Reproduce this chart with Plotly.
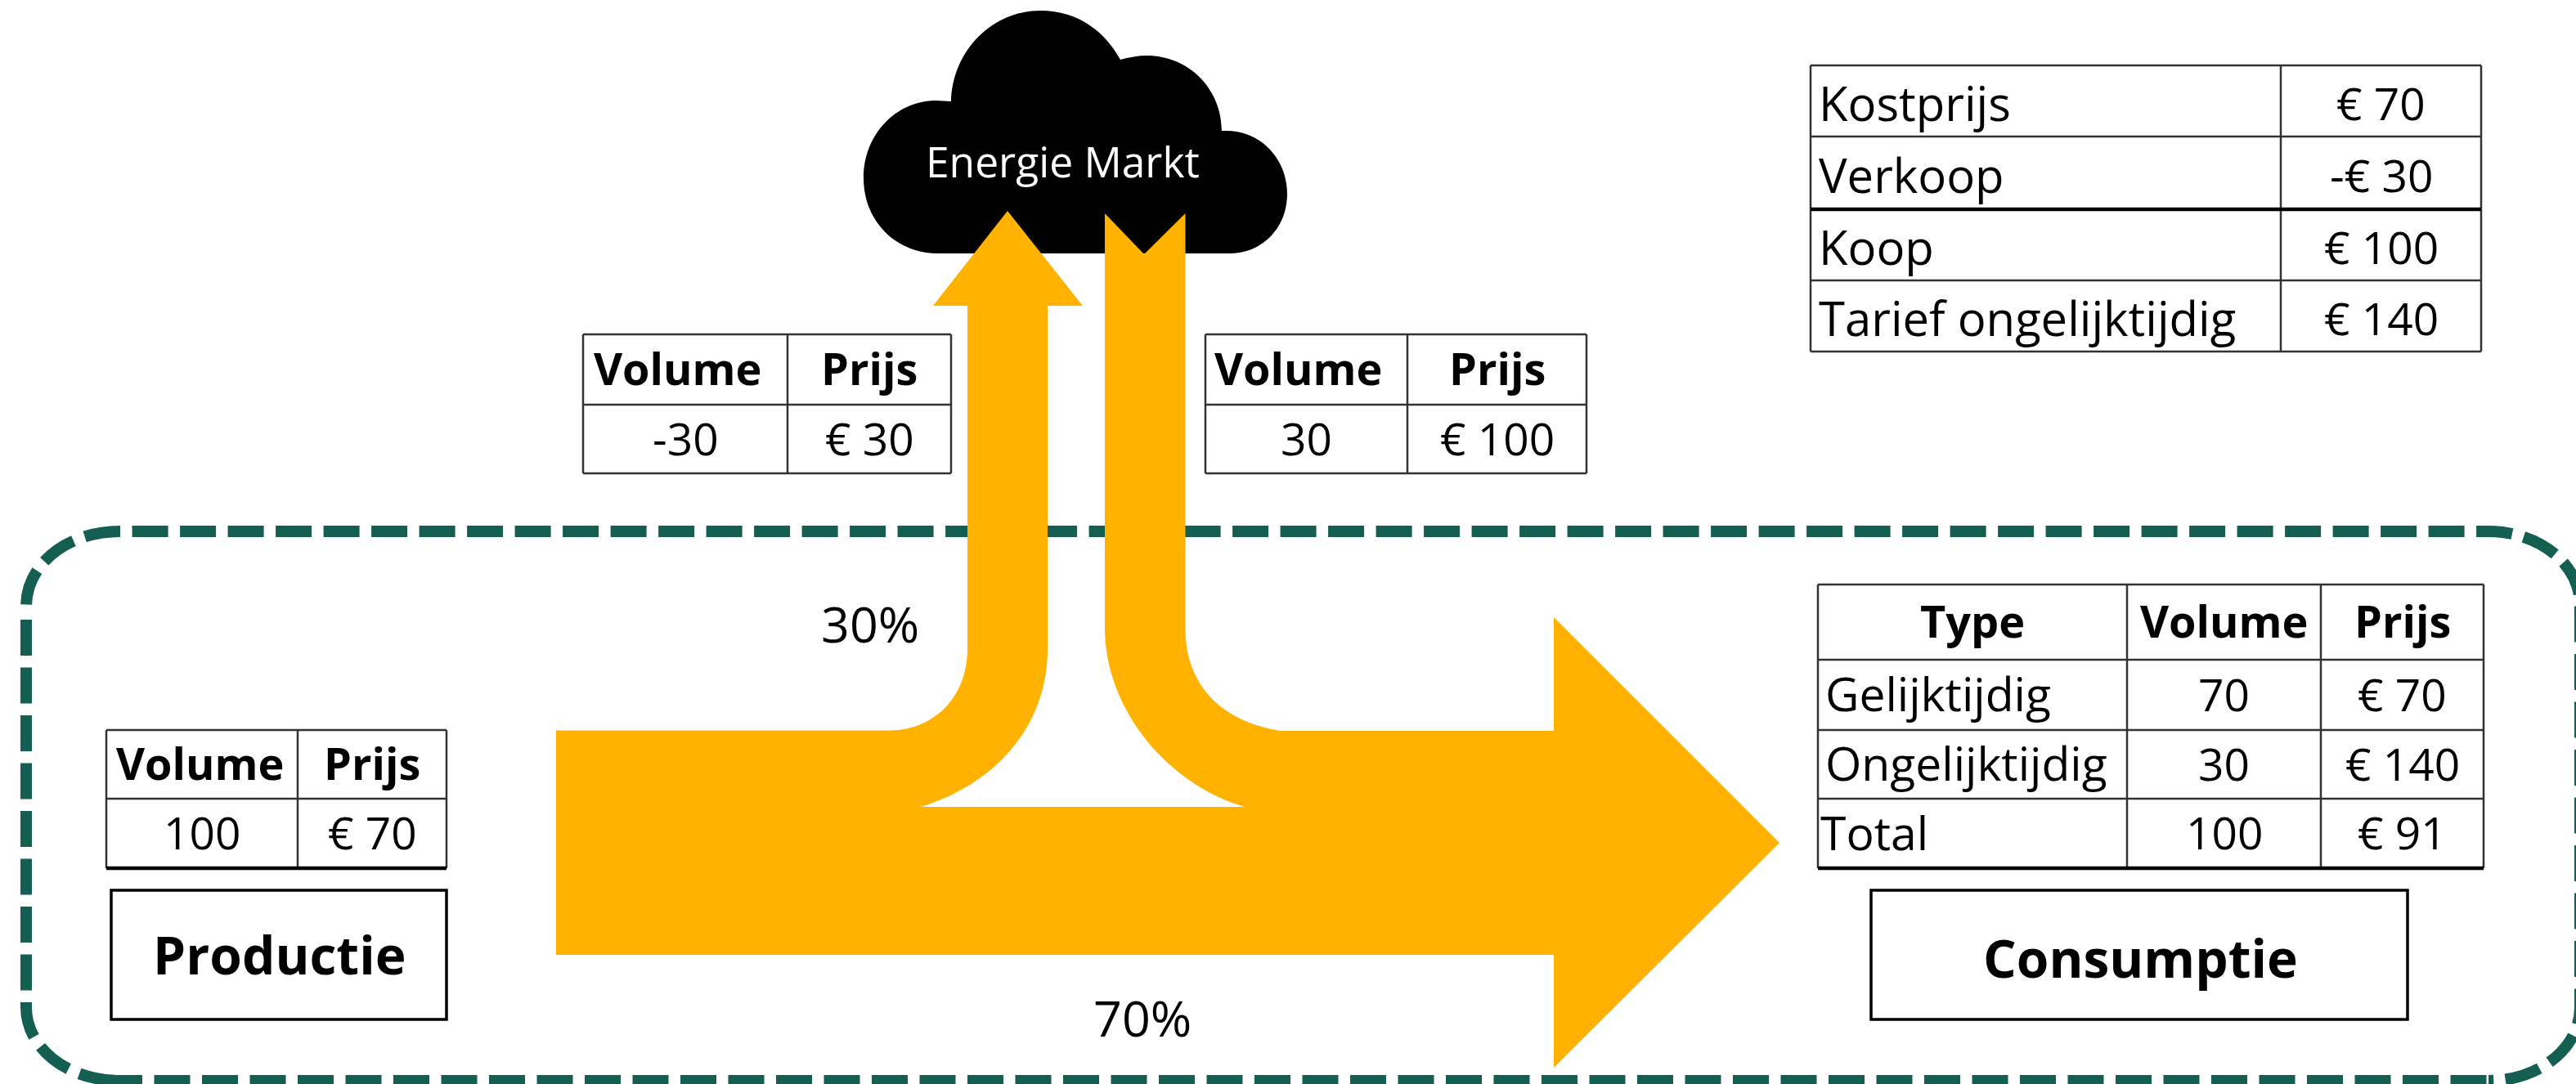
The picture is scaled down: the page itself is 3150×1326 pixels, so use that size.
import plotly.graph_objects as go

# ---- data ----
price_labels = ["Kostprijs", "Verkoop", "Koop", "Tarief ongelijktijdig"]
price_values = ["€ 70", "-€ 30", "€ 100", "€ 140"]
sell_header = ["Volume", "Prijs"]
sell_row = ["-30", "€ 30"]
buy_row = ["30", "€ 100"]
prod_row = ["100", "€ 70"]
cons_header = ["Type", "Volume", "Prijs"]
cons_types = ["Gelijktijdig", "Ongelijktijdig", "Total"]
cons_volumes = ["70", "30", "100"]
cons_prices = ["€ 70", "€ 140", "€ 91"]
share_labels = ["30%", "70%"]
node_labels = ["Productie", "Consumptie", "Energie Markt"]

ORANGE = "#FFB200"
GREEN = "#145E52"
LINE = "#333333"
FONT = "Open Sans"
W, H = 3150, 1326

fig = go.Figure()
shapes = []
notes = []


def text(x, y, s, size, bold=False, color="#000000", anchor="center"):
    notes.append(dict(x=x, y=y, text=f"<b>{s}</b>" if bold else s, showarrow=False,
                      xanchor=anchor, yanchor="middle", borderpad=0,
                      font=dict(family=FONT, size=size, color=color)))


def grid(xs, ys, width=2.5):
    for x in xs:
        shapes.append(dict(type="line", x0=x, x1=x, y0=ys[0], y1=ys[-1],
                           line=dict(color=LINE, width=width)))
    for y in ys:
        shapes.append(dict(type="line", x0=xs[0], x1=xs[-1], y0=y, y1=y,
                           line=dict(color=LINE, width=width)))


def heavy_rule(xs, y):
    shapes.append(dict(type="line", x0=xs[0], x1=xs[-1], y0=y, y1=y,
                       line=dict(color="#000000", width=4.5)))


# dashed system boundary; each sub-path restarts the dash pattern
L, R, T, B = 32, 3155, 650, 1322
boundary = (
    f"M161.6,{T} L{R-112},{T} C{R-50},{T} {R},{T+40} {R},{T+90} "
    f"L{R},{B-90} C{R},{B-40} {R-50},{B} {R-112},{B} "
    f"M130,{B} L{R-112},{B} "
    f"M{L},758 L{L},{B-90} C{L},{B-40} {L+50},{B} {L+115},{B} "
    f"M147,{T} C{L+50},{T} {L},{T+40} {L},742"
)
shapes.append(dict(type="path", path=boundary, line=dict(color=GREEN, width=14, dash="44px,14.5px")))

# cloud
cloud = ("M1147,310 C1095,310 1056,270 1056,218 C1056,165 1095,123 1145,123 L1163,124 "
         "C1165,60 1215,13 1272,13 C1320,13 1352,40 1370,73 C1380,70 1392,68 1402,68 "
         "C1455,68 1494,110 1494,160 L1500,160 C1542,160 1574,195 1574,237 "
         "C1574,280 1542,310 1504,310 Z")
shapes.append(dict(type="path", path=cloud, fillcolor="#000000", line=dict(width=0)))

# flow arrows
flow = ("M680,893.5 L1088,893.5 C1145,893 1183,850 1183,794 L1183,374 L1141,374 L1232,258 "
        "L1324,374 L1281,374 L1281,794 C1281,890 1215,960 1126,987 L1522,987 "
        "C1430,960 1351,870 1351,767 L1351,261 L1399,311 L1449.5,261 L1449.5,769 "
        "C1449.5,835 1490,882 1566,894 L1900,894 L1900,755 L2176,1031 L1900,1306 "
        "L1900,1168 L680,1168 Z")
shapes.append(dict(type="path", path=flow, fillcolor=ORANGE, line=dict(width=0)))

# price table, top right
xs = [2214, 2789, 3034]
ys = [80, 167, 256, 343, 430]
grid(xs, ys)
heavy_rule(xs, ys[2])
for i in range(4):
    cy = (ys[i] + ys[i + 1]) / 2
    text(2223, cy + 2, price_labels[i], 58, anchor="left")
    text((xs[1] + xs[2]) / 2, cy + 2, price_values[i], 55)

# two-column volume / price tables
for xs, ys, row, nudge, rule in [
    ([713, 963, 1163], [409, 495, 579], sell_row, -10, False),
    ([1474, 1721, 1940], [409, 495, 579], buy_row, -10, False),
    ([130, 364, 546], [893, 977, 1062], prod_row, -3, True),
]:
    grid(xs, ys)
    if rule:
        heavy_rule(xs, ys[2])
    for c in range(2):
        cx = (xs[c] + xs[c + 1]) / 2
        text(cx + (nudge if c == 0 else 0), (ys[0] + ys[1]) / 2 - 2, sell_header[c], 54, bold=True)
        text(cx, (ys[1] + ys[2]) / 2 - 2, row[c], 55)

# consumption table
xs = [2223, 2601, 2838, 3037]
ys = [715, 807, 893, 977, 1062]
grid(xs, ys)
heavy_rule(xs, ys[4])
for c in range(3):
    text((xs[c] + xs[c + 1]) / 2, (ys[0] + ys[1]) / 2 - 2, cons_header[c], 54, bold=True)
for r in range(3):
    cy = (ys[r + 1] + ys[r + 2]) / 2 - 2
    text(2225 if r == 2 else 2231, cy, cons_types[r], 57, anchor="left")
    text((xs[1] + xs[2]) / 2, cy, cons_volumes[r], 55)
    text((xs[2] + xs[3]) / 2, cy, cons_prices[r], 55)

# node boxes
shapes.append(dict(type="rect", x0=136, x1=546, y0=1089, y1=1247, line=dict(color="#000000", width=3.5)))
shapes.append(dict(type="rect", x0=2288, x1=2944, y0=1089, y1=1247, line=dict(color="#000000", width=3.5)))
text(341, 1167, node_labels[0], 64, bold=True)
text(2617, 1171, node_labels[1], 64, bold=True)
text(1299, 197, node_labels[2], 51.5, color="#FFFFFF")

# shares
text(1064, 762, share_labels[0], 61)
text(1397, 1244, share_labels[1], 61)

fig.update_layout(
    width=W, height=H, margin=dict(l=0, r=0, t=0, b=0),
    paper_bgcolor="#FFFFFF", plot_bgcolor="#FFFFFF", showlegend=False,
    xaxis=dict(range=[0, W], visible=False, fixedrange=True),
    yaxis=dict(range=[H, 0], visible=False, fixedrange=True),
    shapes=shapes, annotations=notes,
)
fig.write_html("out.html", post_script="document.body.style.margin='0';document.body.style.overflow='hidden';",
               config=dict(displayModeBar=False))
